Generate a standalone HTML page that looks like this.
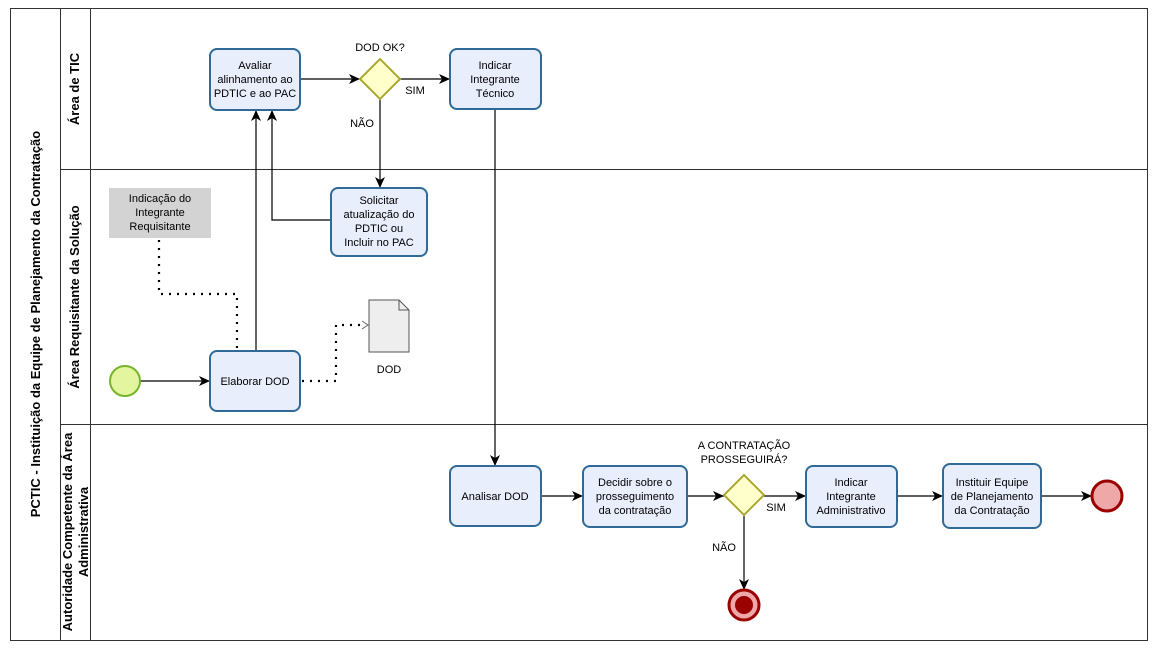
<!DOCTYPE html>
<html><head><meta charset="utf-8"><style>
html,body{margin:0;padding:0;background:#fff;}
svg{display:block;font-family:"Liberation Sans",sans-serif;}
</style></head><body>
<svg width="1154" height="651" viewBox="0 0 1154 651" xmlns="http://www.w3.org/2000/svg">
<defs>
<marker id="a" markerWidth="12" markerHeight="10" refX="11" refY="5" orient="auto" markerUnits="userSpaceOnUse">
<path d="M0,0 L11,5 L0,10 L3,5 Z" fill="#000"/></marker>
<marker id="o" markerWidth="10" markerHeight="12" refX="9" refY="6" orient="auto" markerUnits="userSpaceOnUse">
<path d="M1,1 L9,6 L1,11" fill="none" stroke="#666" stroke-width="1"/></marker>
</defs>
<rect x="10.5" y="8.5" width="1137" height="632" fill="#fff" stroke="#333"/>
<line x1="60.5" y1="8" x2="60.5" y2="641" stroke="#333"/>
<line x1="90.5" y1="8" x2="90.5" y2="641" stroke="#333"/>
<line x1="60" y1="169.5" x2="1147" y2="169.5" stroke="#333"/>
<line x1="60" y1="424.5" x2="1147" y2="424.5" stroke="#333"/>
<g font-weight="bold" font-size="13" fill="#000" text-anchor="middle">
<text transform="translate(40,324) rotate(-90)">PCTIC - Instituição da Equipe de Planejamento da Contratação</text>
<text transform="translate(79,89) rotate(-90)">Área de TIC</text>
<text transform="translate(79,297) rotate(-90)">Área Requisitante da Solução</text>
<text transform="translate(72,532) rotate(-90)">Autoridade Competente da Área</text>
<text transform="translate(88,532) rotate(-90)">Administrativa</text>
</g>
<!-- edges -->
<g stroke="#000" stroke-width="1.2" fill="none">
<line x1="300" y1="79" x2="360" y2="79" marker-end="url(#a)"/>
<line x1="400" y1="79" x2="450" y2="79" marker-end="url(#a)"/>
<line x1="380" y1="99" x2="380" y2="188" marker-end="url(#a)"/>
<polyline points="331,220 272,220 272,110" marker-end="url(#a)"/>
<line x1="256" y1="351" x2="256" y2="110" marker-end="url(#a)"/>
<line x1="140" y1="381" x2="210" y2="381" marker-end="url(#a)"/>
<line x1="495" y1="109" x2="495" y2="466" marker-end="url(#a)"/>
<line x1="541" y1="496" x2="583" y2="496" marker-end="url(#a)"/>
<line x1="687" y1="496" x2="724" y2="496" marker-end="url(#a)"/>
<line x1="764" y1="496" x2="806" y2="496" marker-end="url(#a)"/>
<line x1="744" y1="515" x2="744" y2="590" marker-end="url(#a)"/>
<line x1="897" y1="496" x2="943" y2="496" marker-end="url(#a)"/>
<line x1="1041" y1="496" x2="1092" y2="496" marker-end="url(#a)"/>
</g>
<g stroke="#000" stroke-width="2.2" fill="none" stroke-dasharray="2,6">
<polyline points="159,240 159,294 237,294 237,351"/>
<polyline points="302,381 336,381 336,325 362,325"/>
</g>
<polyline points="362,321 368,325 362,329" fill="none" stroke="#666"/>
<!-- tasks -->
<g fill="#e8eefc" stroke="#2f6a99" stroke-width="2">
<rect x="210" y="49" width="90" height="61" rx="7"/>
<rect x="450" y="49" width="91" height="60" rx="7"/>
<rect x="331" y="188" width="96" height="68" rx="7"/>
<rect x="210" y="351" width="90" height="60" rx="7"/>
<rect x="450" y="466" width="91" height="60" rx="7"/>
<rect x="583" y="466" width="104" height="61" rx="7"/>
<rect x="806" y="466" width="91" height="61" rx="7"/>
<rect x="943" y="464" width="98" height="64" rx="7"/>
</g>
<rect x="109" y="188" width="102" height="50" fill="#d3d3d3"/>
<path d="M369,300 L399,300 L409,310 L409,352 L369,352 Z" fill="#eee" stroke="#555"/>
<path d="M399,300 L399,310 L409,310" fill="none" stroke="#555"/>
<g fill="#ffffcc" stroke="#a8a832" stroke-width="2">
<polygon points="380,59 400,79 380,99 360,79"/>
<polygon points="744,475 764,495 744,515 724,495"/>
</g>
<circle cx="125" cy="381" r="15" fill="#e3f59f" stroke="#77b32a" stroke-width="2"/>
<circle cx="1107" cy="496" r="15" fill="#eea8a8" stroke="#9b0000" stroke-width="3"/>
<circle cx="744" cy="605" r="15" fill="#eea8a8" stroke="#9b0000" stroke-width="3"/>
<circle cx="744" cy="605" r="9" fill="#9b0000"/>
<!-- text -->
<g font-size="11" fill="#000" text-anchor="middle">
<text x="255" y="69">Avaliar</text><text x="255" y="83">alinhamento ao</text><text x="255" y="97">PDTIC e ao PAC</text>
<text x="495" y="69">Indicar</text><text x="495" y="83">Integrante</text><text x="495" y="97">Técnico</text>
<text x="379" y="204">Solicitar</text><text x="379" y="218">atualização do</text><text x="379" y="232">PDTIC  ou</text><text x="379" y="246">Incluir no PAC</text>
<text x="255" y="385">Elaborar DOD</text>
<text x="495" y="500">Analisar DOD</text>
<text x="635" y="486">Decidir sobre o</text><text x="635" y="500">prosseguimento</text><text x="635" y="514">da contratação</text>
<text x="851" y="486">Indicar</text><text x="851" y="500">Integrante</text><text x="851" y="514">Administrativo</text>
<text x="992" y="486">Instituir Equipe</text><text x="992" y="500">de Planejamento</text><text x="992" y="514">da Contratação</text>
<text x="160" y="202">Indicação do</text><text x="160" y="216">Integrante</text><text x="160" y="230">Requisitante</text>
<text x="389" y="373">DOD</text>
<text x="380" y="51">DOD OK?</text>
<text x="415" y="94">SIM</text>
<text x="362" y="127">NÃO</text>
<text x="744" y="449">A CONTRATAÇÃO</text><text x="744" y="463">PROSSEGUIRÁ?</text>
<text x="776" y="511">SIM</text>
<text x="724" y="551">NÃO</text>
</g>
</svg>
</body></html>
